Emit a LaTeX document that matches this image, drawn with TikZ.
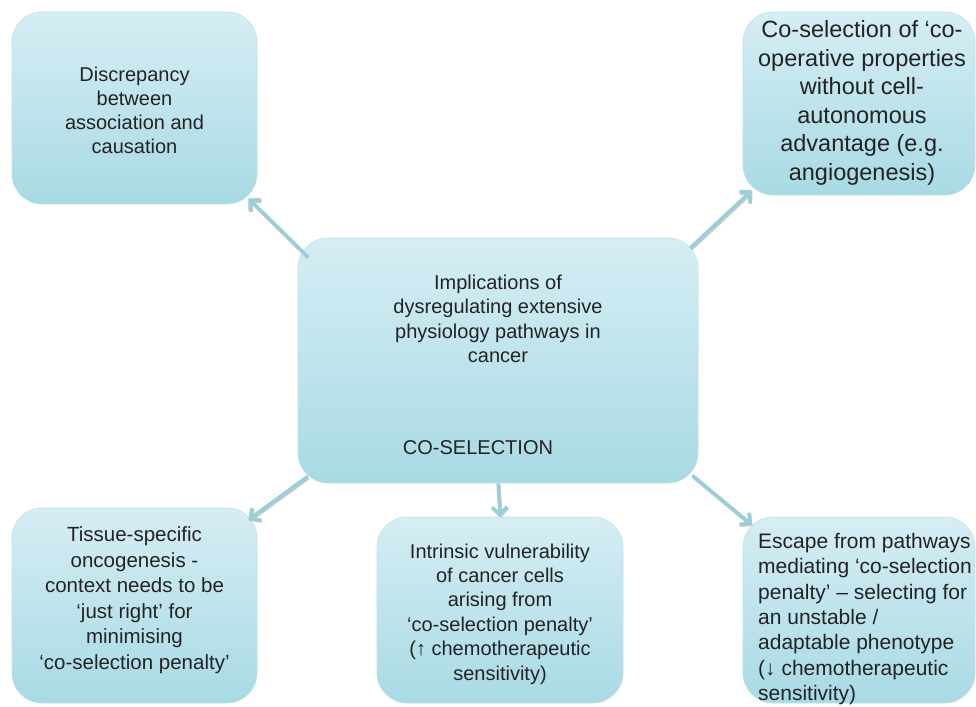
\documentclass[tikz,border=0pt]{standalone}
\usepackage{fontspec}
\setmainfont{Liberation Sans}
\usetikzlibrary{arrows.meta}
\definecolor{cajasup}{RGB}{214,237,244}
\definecolor{cajainf}{RGB}{168,218,228}
\definecolor{borde}{RGB}{190,226,234}
\definecolor{flechac}{RGB}{152,208,218}
\definecolor{tinta}{RGB}{35,35,35}

\begin{document}
\begin{tikzpicture}[x=1pt,y=-1pt,
  caja/.style={rounded corners=30pt, top color=cajasup, bottom color=cajainf,
    draw=borde, line width=0.6pt, inner sep=0pt},
  letra/.style 2 args={text=tinta, align=center, inner sep=0pt,
    font=\fontsize{#1}{#2}\selectfont},
  flecha/.style={draw=flechac, line width=3.2pt,
    -{Straight Barb[length=7.5pt,width=15pt]},
    preaction={draw=black!22, line width=3.8pt,
      transform canvas={shift={(0.8pt,-1.2pt)}}}}]
  \useasboundingbox (0,0) rectangle (976,706);

  % caja central
  \node[caja, minimum width=400pt, minimum height=245pt] (ctr) at (498,360.5) {};
  \node[letra={20}{24.5}] (ctr-t) at (498,319) {Implications of\\dysregulating extensive\\physiology pathways in\\cancer};
  \node[letra={20}{24}] (cosel) at (478,448) {CO-SELECTION};

  % cajas de arriba
  \node[caja, minimum width=245pt, minimum height=192pt] (disc) at (134.5,108) {};
  \node[letra={20}{24}] (disc-t) at (134.5,110) {Discrepancy\\between\\association and\\causation};
  \node[caja, minimum width=232pt, minimum height=183pt] (coop) at (859,103.5) {};
  \node[letra={23.5}{28.6}] (coop-t) at (862,103) {Co-selection of ‘co-\\operative properties\\without cell-\\autonomous\\advantage (e.g.\\angiogenesis)};

  % cajas de abajo
  \node[caja, minimum width=245pt, minimum height=195pt] (tissue) at (134.5,605.5) {};
  \node[letra={20.5}{25.5}] (tissue-t) at (134.5,600) {Tissue-specific\\oncogenesis -\\context needs to be\\‘just right’ for\\minimising\\‘co-selection penalty’};
  \node[caja, minimum width=246pt, minimum height=186pt] (vuln) at (500,610) {};
  \node[letra={20}{24.4}] (vuln-t) at (500,614) {Intrinsic vulnerability\\of cancer cells\\arising from\\‘co-selection penalty’\\(↑ chemotherapeutic\\sensitivity)};
  \node[caja, minimum width=232pt, minimum height=186pt] (escape) at (859,610) {};
  \node[letra={21}{25.4}, align=left, anchor=west] (escape-t) at (758,619) {Escape from pathways\\mediating ‘co-selection\\penalty’ -- selecting for\\an unstable /\\adaptable phenotype\\(↓ chemotherapeutic\\sensitivity)};

  % flechas
  \draw[flecha] ([shift={(10,19)}]ctr.north west) -- ([shift={(-9,-6)}]disc.south east);
  \draw[flecha] ([shift={(-8,10)}]ctr.north east) -- ([shift={(9,-5)}]coop.south west);
  \draw[flecha] ([shift={(10,-7)}]ctr.south west) -- ([shift={(-9,12)}]tissue.north east);
  \draw[flecha] (ctr.south) -- (vuln.north);
  \draw[flecha] ([shift={(-6,-8)}]ctr.south east) -- ([shift={(9,8)}]escape.north west);
\end{tikzpicture}
\end{document}
